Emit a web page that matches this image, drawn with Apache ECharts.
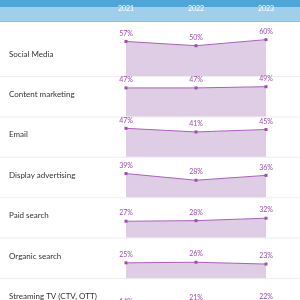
<!doctype html>
<html lang="en">
<head>
    <meta charset="UTF-8">
    <script type="text/javascript" src="https://cdn.jsdelivr.net/npm/echarts@6/dist/echarts.min.js"></script>
    <title>Channels</title>
    <style>
        html, body { margin: 0; padding: 0; background: #fff; }
    </style>
</head>
<body>
    <div id="main" style="width: 300px;height:300px;"></div>
</body>
<script type="text/javascript">
    // 年份 / 渠道 / 数值
    var years = ['2021', '2022', '2023'];
    var channels = ['Social Media', 'Content marketing', 'Email', 'Display advertising',
        'Paid search', 'Organic search', 'Streaming TV (CTV, OTT)'];
    var social = [57, 50, 60];
    var content = [47, 47, 49];
    var email = [47, 41, 45];
    var display = [39, 28, 36];
    var paid = [27, 28, 32];
    var organic = [25, 26, 23];
    var streaming = [14, 21, 22];
    var values = [social, content, email, display, paid, organic, streaming];

    var rowTop = 36, rowH = 40.4;
    var grids = [], xAxes = [], yAxes = [], series = [];
    var graphic = [
        {type: 'rect', shape: {x: 0, y: 0, width: 300, height: 7}, style: {fill: '#4fa6d6'}},
        {type: 'rect', shape: {x: 0, y: 7, width: 300, height: 14}, style: {fill: '#9fcfeb'}},
        {type: 'rect', shape: {x: 0, y: 21, width: 300, height: 1}, style: {fill: '#8cc3e4'}}
    ];

    for (var i = 0; i < channels.length; i++) {
        var rowY = rowTop + rowH * i;
        // 最后一行超出画布
        grids.push({left: 126, right: 34, top: rowY, height: 40, outerBoundsMode: 'none'});
        xAxes.push({
            type: 'category', gridIndex: i, data: years, boundaryGap: false,
            position: 'top', offset: 16,
            axisLine: {show: false}, axisTick: {show: false}, splitLine: {show: false},
            axisLabel: {show: i === 0, color: '#ffffff', fontSize: 7, fontFamily: 'Lato'}
        });
        yAxes.push({type: 'value', gridIndex: i, min: 0, max: 66, show: false});
        series.push({
            type: 'line', xAxisIndex: i, yAxisIndex: i, data: values[i],
            symbol: 'rect', symbolSize: 3, showAllSymbol: true,
            lineStyle: {color: '#a862b9', width: 1},
            itemStyle: {color: '#9a4fae'},
            areaStyle: {color: '#dfcce5', opacity: 1},
            label: {show: true, position: 'top', distance: 3, formatter: '{c}%',
                color: '#9a4fae', fontSize: 7, fontFamily: 'Lato'},
            animation: false
        });
        graphic.push({
            type: 'text', left: 9, top: rowY + 14,
            style: {text: channels[i], fill: '#333333', fontSize: 8, fontFamily: 'Lato'}
        });
        graphic.push({
            type: 'rect', shape: {x: 0, y: rowY + 40, width: 300, height: 1},
            style: {fill: '#eeeeee'}, z: -1
        });
    }

    var myChart = echarts.init(document.getElementById('main'));
    myChart.setOption({
        animation: false,
        grid: grids,
        xAxis: xAxes,
        yAxis: yAxes,
        series: series,
        graphic: graphic
    });
</script>
</html>
